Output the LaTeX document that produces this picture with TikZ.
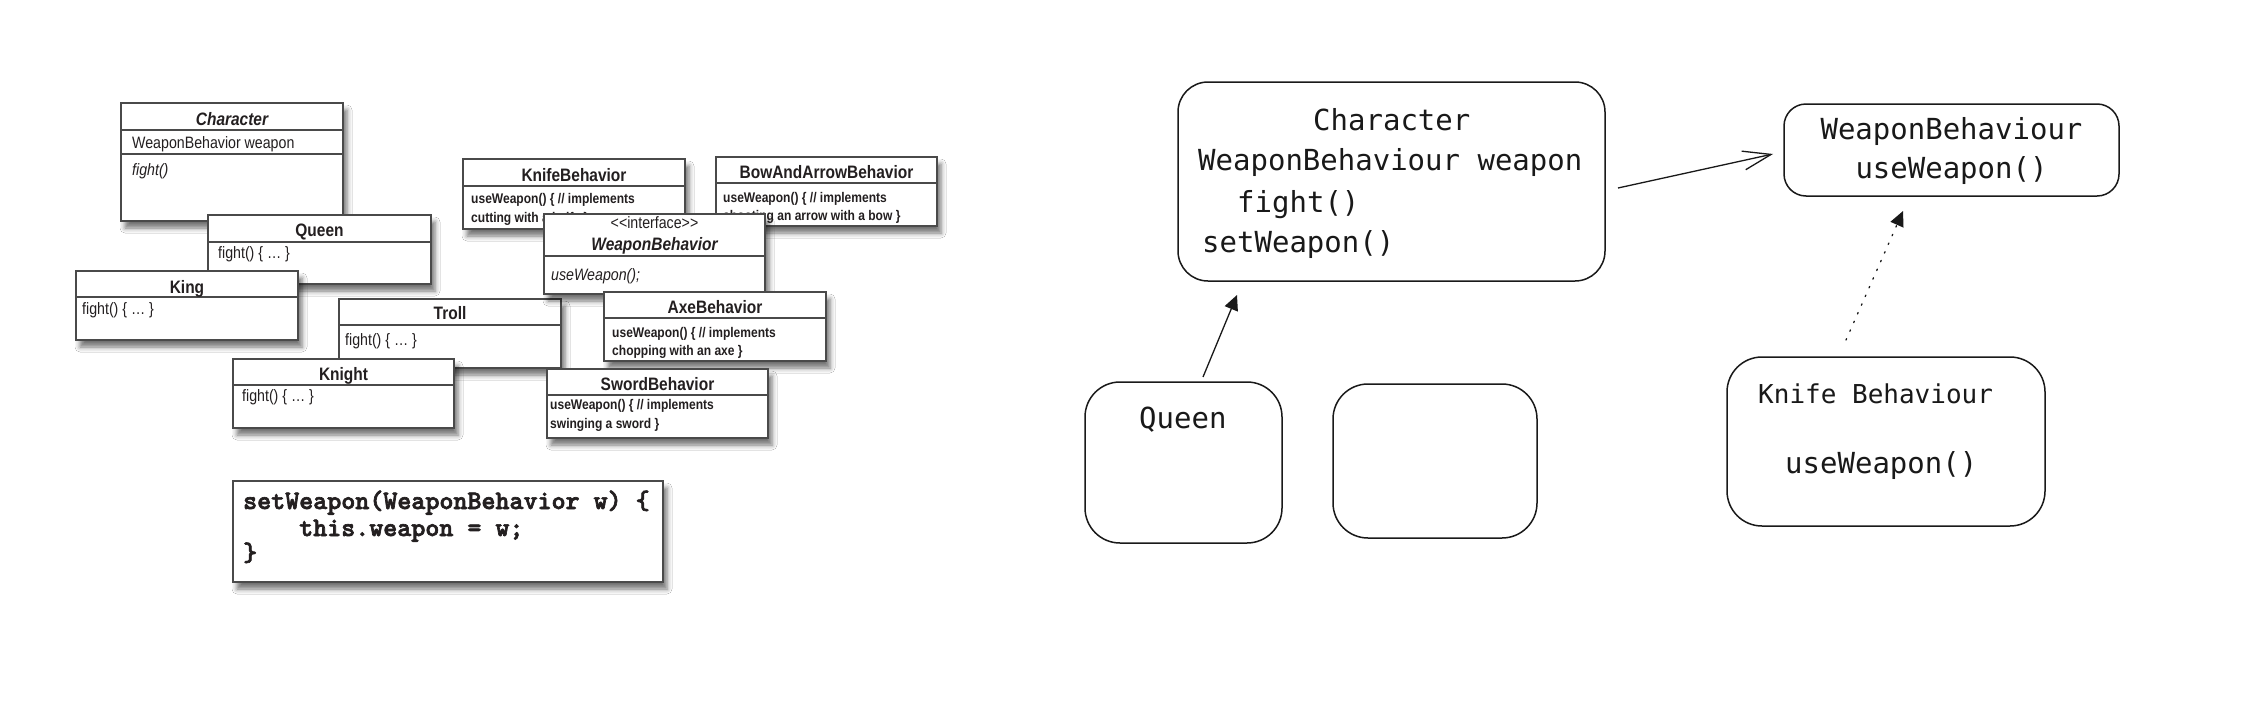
\documentclass[tikz,border=0pt]{standalone}
\usepackage{fontspec}
\usetikzlibrary{arrows.meta,calc,shadows.blur}
\newfontfamily\umlfont[FakeStretch=0.86]{Liberation Sans}
\newfontfamily\codefont[FakeBold=2.5]{lmmonolt10-bold.otf}
\newfontfamily\sketchfont{DejaVu Sans Mono}
\definecolor{umlline}{HTML}{4A4A4A}
\definecolor{umlink}{HTML}{231F20}
\tikzset{
  umlbox/.style={draw=umlline, line width=1.4pt, fill=white, anchor=north west,
    inner sep=0pt, outer sep=0pt,
    blur shadow={shadow xshift=4pt, shadow yshift=-7pt, shadow blur radius=5pt, shadow opacity=55}},
  umlsep/.style={draw=umlline, line width=1.2pt},
  umltitle/.style={anchor=base, inner sep=0pt, text=umlink, font=\umlfont\fontsize{18}{20}\selectfont\bfseries},
  umlititle/.style={umltitle, font=\umlfont\fontsize{18}{20}\selectfont\bfseries\itshape},
  umlbody/.style={anchor=base west, inner sep=0pt, text=umlink, font=\umlfont\fontsize{16.5}{18}\selectfont},
  umlsmall/.style={anchor=base west, inner sep=0pt, text=umlink, font=\umlfont\fontsize{14}{16}\selectfont\bfseries},
  codetext/.style={anchor=base west, inner sep=0pt, text=umlink, font=\codefont\fontsize{26.7}{30}\selectfont},
  sketchbox/.style={draw=black!90, line width=1.5pt, anchor=north west, inner sep=0pt, outer sep=0pt},
  sketchtext/.style={anchor=base west, inner sep=0pt, text=black!90, font=\sketchfont\fontsize{29}{34}\selectfont},
  sketchsmall/.style={sketchtext, font=\sketchfont\fontsize{26}{30}\selectfont},
  openarrow/.style={draw=black!90, line width=1.3pt, -{Straight Barb[length=28pt,width=19pt,line width=1.3pt]}},
  fillarrow/.style={draw=black!90, line width=1.3pt, -{Triangle[length=15pt,width=14pt]}},
  dotarrow/.style={fillarrow, dash pattern=on 1.5pt off 8pt, line cap=round}
}
\begin{document}
\begin{tikzpicture}[x=1pt,y=-1pt]
\path[use as bounding box, fill=white] (0,0) rectangle (2250,712);

% ---------- left: UML class sketch ----------
% Character
\node[umlbox, minimum width=222pt, minimum height=118pt] (lchar) at (121,103) {};
\draw[umlsep] (lchar.west |- 0,130) -- (lchar.east |- 0,130);
\draw[umlsep] (lchar.west |- 0,154) -- (lchar.east |- 0,154);
\node[umlititle] (lchart) at (232,125) {Character};
\node[umlbody] (lchara) at (132,148) {WeaponBehavior weapon};
\node[umlbody, font=\umlfont\fontsize{16.5}{18}\selectfont\itshape] (lcharm) at (132,175) {fight()};

% Queen
\node[umlbox, minimum width=223pt, minimum height=69pt] (lqueen) at (208,215) {};
\draw[umlsep] (lqueen.west |- 0,242) -- (lqueen.east |- 0,242);
\node[umltitle] (lqueent) at (319.5,236) {Queen};
\node[umlbody] (lqueenm) at (218,258) {fight() \{ … \}};

% King
\node[umlbox, minimum width=222pt, minimum height=69pt] (lking) at (76,271) {};
\draw[umlsep] (lking.west |- 0,297) -- (lking.east |- 0,297);
\node[umltitle] (lkingt) at (187,293) {King};
\node[umlbody] (lkingm) at (82,314) {fight() \{ … \}};

% Troll
\node[umlbox, minimum width=222pt, minimum height=69pt] (ltroll) at (339,299) {};
\draw[umlsep] (ltroll.west |- 0,325) -- (ltroll.east |- 0,325);
\node[umltitle] (ltrollt) at (450,319) {Troll};
\node[umlbody] (ltrollm) at (345,345) {fight() \{ … \}};

% Knight
\node[umlbox, minimum width=221pt, minimum height=69pt] (lknight) at (233,359) {};
\draw[umlsep] (lknight.west |- 0,385) -- (lknight.east |- 0,385);
\node[umltitle] (lknightt) at (343.5,380) {Knight};
\node[umlbody] (lknightm) at (242,401) {fight() \{ … \}};

% KnifeBehavior
\node[umlbox, minimum width=222pt, minimum height=70pt] (lknife) at (463,159) {};
\draw[umlsep] (lknife.west |- 0,186) -- (lknife.east |- 0,186);
\node[umltitle] (lknifet) at (574,181) {KnifeBehavior};
\node[umlsmall] (lknife1) at (471,203) {useWeapon() \{ // implements};
\node[umlsmall] (lknife2) at (471,222) {cutting with a knife \}};

% BowAndArrowBehavior
\node[umlbox, minimum width=221pt, minimum height=69pt] (lbow) at (716,157) {};
\draw[umlsep] (lbow.west |- 0,183) -- (lbow.east |- 0,183);
\node[umltitle] (lbowt) at (826.5,178) {BowAndArrowBehavior};
\node[umlsmall] (lbow1) at (723,202) {useWeapon() \{ // implements};
\node[umlsmall] (lbow2) at (723,220) {shooting an arrow with a bow \}};

% WeaponBehavior interface
\node[umlbox, minimum width=221pt, minimum height=80pt] (lwb) at (544,214) {};
\draw[umlsep] (lwb.west |- 0,256) -- (lwb.east |- 0,256);
\node[anchor=base, inner sep=0pt, text=umlink, font=\umlfont\fontsize{16.5}{18}\selectfont] (lwbs) at (654.5,228) {<\kern0pt<interface>\kern0pt>};
\node[umlititle] (lwbt) at (654.5,250) {WeaponBehavior};
\node[umlbody, font=\umlfont\fontsize{16.5}{18}\selectfont\itshape] (lwbm) at (551,280) {useWeapon();};

% AxeBehavior
\node[umlbox, minimum width=222pt, minimum height=69pt] (laxe) at (604,292) {};
\draw[umlsep] (laxe.west |- 0,318) -- (laxe.east |- 0,318);
\node[umltitle] (laxet) at (715,313) {AxeBehavior};
\node[umlsmall] (laxe1) at (612,337) {useWeapon() \{ // implements};
\node[umlsmall] (laxe2) at (612,355) {chopping with an axe \}};

% SwordBehavior
\node[umlbox, minimum width=221pt, minimum height=69pt] (lsword) at (547,369) {};
\draw[umlsep] (lsword.west |- 0,395) -- (lsword.east |- 0,395);
\node[umltitle] (lswordt) at (657.5,390) {SwordBehavior};
\node[umlsmall] (lsword1) at (550,409) {useWeapon() \{ // implements};
\node[umlsmall] (lsword2) at (550,428) {swinging a sword \}};

% code box
\node[umlbox, minimum width=430pt, minimum height=101pt] (lcode) at (233,481) {};
\node[codetext] (lcode1) at (243,509) {setWeapon(WeaponBehavior w) \{};
\node[codetext] (lcode2) at (299,536) {this.weapon = w;};
\node[codetext] (lcode3) at (243,561) {\}};

% ---------- right: hand sketch ----------
\node[sketchbox, rounded corners=30pt, minimum width=427pt, minimum height=199pt] (rchar) at (1178,82) {};
\node[sketchtext] (rchart) at (1313,130) {Character};
\node[sketchtext] (rchara) at (1198,170) {WeaponBehaviour weapon};
\node[sketchtext] (rcharm) at (1237,212) {fight()};
\node[sketchtext] (rchars) at (1202,252) {setWeapon()};

\node[sketchbox, rounded corners=22pt, minimum width=335pt, minimum height=92pt] (rwb) at (1784,104) {};
\node[sketchtext, anchor=base] (rwbt) at (1951.5,139) {WeaponBehaviour};
\node[sketchtext, anchor=base] (rwbm) at (1951.5,178) {useWeapon()};

\node[sketchbox, rounded corners=35pt, minimum width=197pt, minimum height=161pt] (rqueen) at (1085,382) {};
\node[sketchtext] (rqueent) at (1139,428) {Queen};

\node[sketchbox, rounded corners=35pt, minimum width=204pt, minimum height=154pt] (rempty) at (1333,384) {};

\node[sketchbox, rounded corners=35pt, minimum width=318pt, minimum height=169pt] (rknife) at (1727,357) {};
\node[sketchsmall] (rknifet) at (1758,403) {Knife Behaviour};
\node[sketchtext] (rknifem) at (1785,473) {useWeapon()};

% connectors
\draw[openarrow] ($(rchar.east)+(13,6.5)$) -- ($(rwb.west)+(-11,4)$);
\draw[fillarrow] ($(rqueen.north)+(19.5,-5)$) -- ($(rchar.south west)+(59,14)$);
\draw[dotarrow] ($(rknife.north)+(-40,-17)$) -- ($(rwb.south)+(-48.5,15)$);
\end{tikzpicture}
\end{document}
